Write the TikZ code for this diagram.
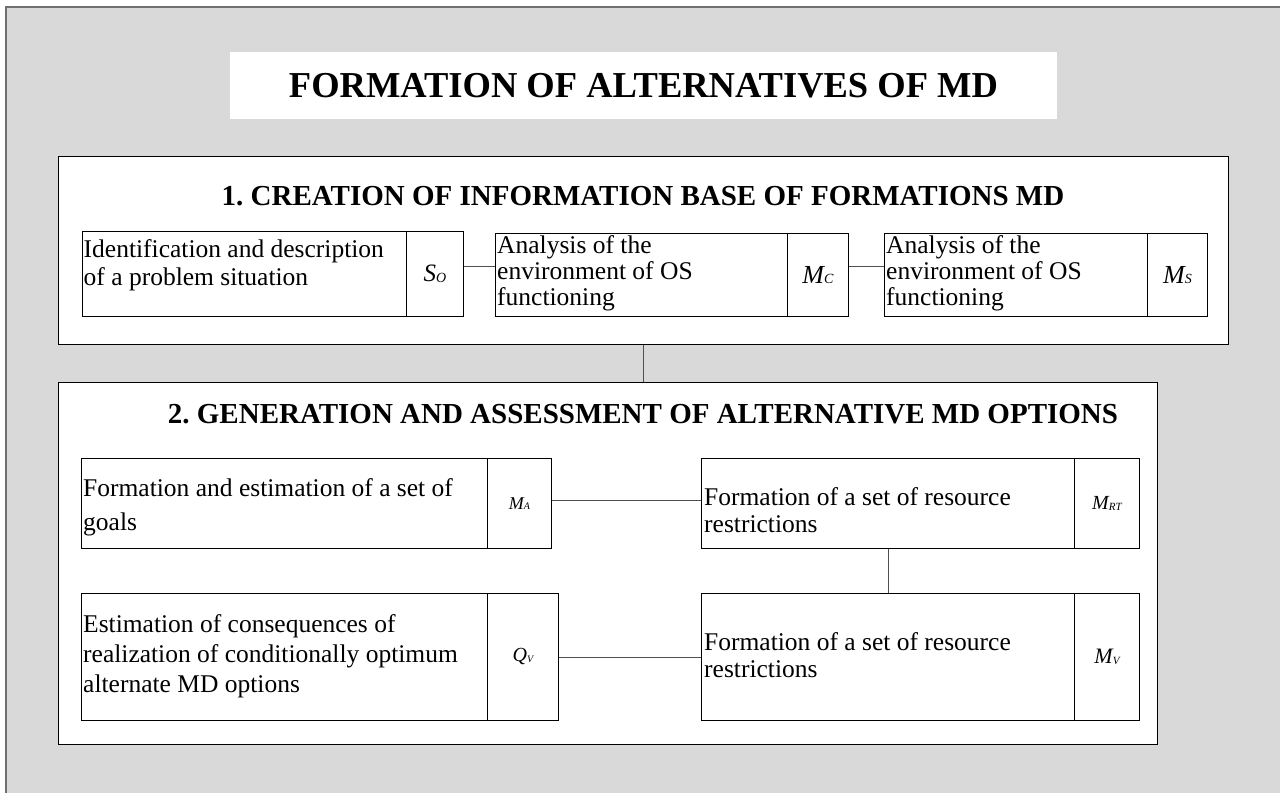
\documentclass[tikz,border=0pt]{standalone}
\usepackage{fontspec}
\setmainfont{Liberation Serif}
\frenchspacing
\definecolor{panel}{HTML}{D9D9D9}
\definecolor{rim}{HTML}{707070}
\definecolor{wire}{HTML}{505050}
% symbol with a small index set on the baseline, e.g. M with C
\newcommand\symidx[4]{{\fontsize{#3}{#3}\selectfont\itshape #1\raisebox{-0.5pt}{\fontsize{#4}{#4}\selectfont #2}}}
\newcommand\bodyfont[1]{\fontsize{25.5}{#1}\selectfont}
\begin{document}
\begin{tikzpicture}[x=1pt,y=-1pt,
  frame/.style={draw=black, line width=1pt, fill=white, inner sep=0pt, anchor=north west},
  cell/.style={draw=black, line width=0.9pt, fill=white, inner sep=0pt, anchor=north west},
  words/.style={align=left, inner sep=0pt, anchor=north west},
  head/.style={font=\bfseries\fontsize{29}{30}\selectfont, inner sep=0pt},
  link/.style={draw=wire, line width=0.9pt}]
\useasboundingbox (0,0) rectangle (1280,793);
% outer panel
\fill[panel] (6,7) rectangle (1280,793);
\draw[rim, line width=1.6pt] (6,793) -- (6,7) -- (1280,7);

% title
\node[fill=white, minimum width=827pt, minimum height=67pt, inner sep=0pt,
      font=\bfseries\fontsize{36.5}{38}\selectfont] (title) at (643.5,85.5)
      {FORMATION OF ALTERNATIVES OF MD};

% section 1
\node[frame, minimum width=1170pt, minimum height=188pt] (sec1) at (58,156) {};
\node[head] (h1) at (643,196) {1. CREATION OF INFORMATION BASE OF FORMATIONS MD};

\node[cell, minimum width=324pt, minimum height=85pt] (t1) at (82,231) {};
\node[words, font=\bodyfont{28}] (w1) at (83.5,239)
  {Identification and description\\of a problem situation};
\node[cell, minimum width=57pt, minimum height=85pt] (l1) at (406,231) {\symidx{S}{O}{25}{14}};

\node[cell, minimum width=292pt, minimum height=83pt] (t2) at (495,233) {};
\node[words, font=\bodyfont{26}] (w2) at (497,235.5)
  {Analysis of the\\environment of OS\\functioning};
\node[cell, minimum width=61pt, minimum height=83pt] (l2) at (787,233) {\symidx{M}{C}{26}{14}};

\node[cell, minimum width=263pt, minimum height=83pt] (t3) at (884,233) {};
\node[words, font=\bodyfont{26}] (w3) at (886,235.5)
  {Analysis of the\\environment of OS\\functioning};
\node[cell, minimum width=60pt, minimum height=83pt] (l3) at (1147,233) {\symidx{M}{S}{26}{14}};

\draw[link] ([yshift=8pt]l1.east) -- ([yshift=8pt]l1.east -| t2.west);
\draw[link] ([yshift=9pt]l2.east) -- ([yshift=9pt]l2.east -| t3.west);

% section 2
\node[frame, minimum width=1099pt, minimum height=362pt] (sec2) at (58,382) {};
\node[head] (h2) at (643,414) {2. GENERATION AND ASSESSMENT OF ALTERNATIVE MD OPTIONS};

\draw[link] (sec1.south) -- (sec1.south |- sec2.north);

\node[cell, minimum width=406pt, minimum height=90pt] (t4) at (81,458) {};
\node[words, font=\bodyfont{34}] (w4) at (83,478.5)
  {Formation and estimation of a set of\\goals};
\node[cell, minimum width=64pt, minimum height=90pt] (l4) at (487,458) {\symidx{M}{A}{18}{10}};

\node[cell, minimum width=373pt, minimum height=90pt] (t5) at (701,458) {};
\node[words, font=\bodyfont{27}] (w5) at (704,487.5)
  {Formation of a set of resource\\restrictions};
\node[cell, minimum width=65pt, minimum height=90pt] (l5) at (1074,458) {\symidx{M}{RT}{20}{11}};

\node[cell, minimum width=406pt, minimum height=127pt] (t6) at (81,593) {};
\node[words, font=\bodyfont{30}] (w6) at (83,614.5)
  {Estimation of consequences of\\realization of conditionally optimum\\alternate MD options};
\node[cell, minimum width=71pt, minimum height=127pt] (l6) at (487,593) {\symidx{Q}{V}{20}{10}};

\node[cell, minimum width=373pt, minimum height=127pt] (t7) at (701,593) {};
\node[words, font=\bodyfont{27}] (w7) at (704,632.5)
  {Formation of a set of resource\\restrictions};
\node[cell, minimum width=65pt, minimum height=127pt] (l7) at (1074,593) {\symidx{M}{V}{22}{11}};

\draw[link] ([yshift=3pt]l4.east) -- ([yshift=3pt]l4.east -| t5.west);
\draw[link] (t5.south) -- (t7.north);
\draw[link] (l6.east) -- (l6.east -| t7.west);
\end{tikzpicture}
\end{document}
